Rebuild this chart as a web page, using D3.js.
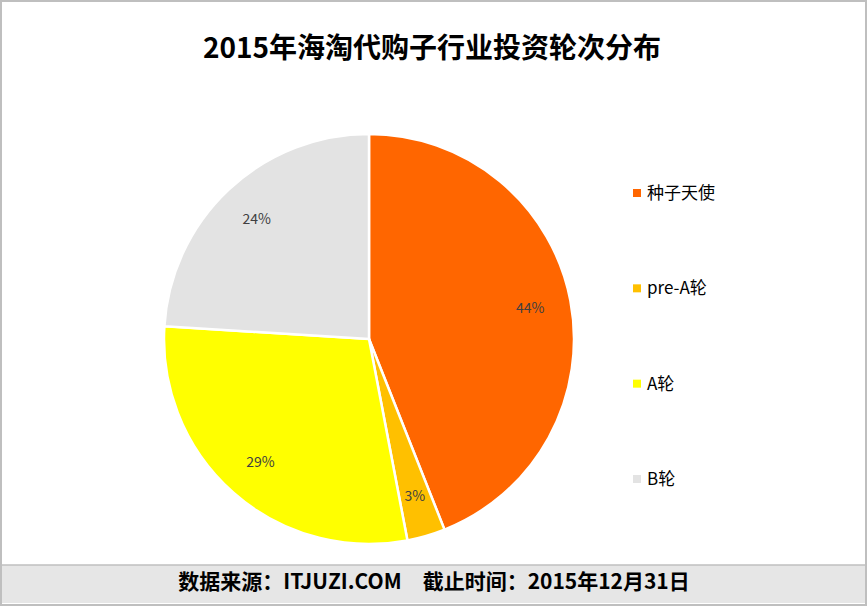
<!DOCTYPE html><html><head><meta charset="utf-8"><script src="https://cdn.jsdelivr.net/npm/d3@7"></script>
<style>body{margin:0;background:#fff}</style></head><body><svg id="c" width="867" height="606"></svg>
<script>
const categories=["种子天使","pre-A轮","A轮","B轮"];
const values=[44,3,29,24];
const colors=["#FF6600","#FFC000","#FFFF00","#E3E3E3"];
const svg=d3.select("#c");
const F="'Noto Sans CJK SC','Noto Sans',sans-serif";
svg.append("rect").attr("x",1).attr("y",1).attr("width",865).attr("height",604).attr("fill","#fff").attr("stroke","#BFBFBF").attr("stroke-width",2);
svg.append("text").attr("x",432).attr("y",58).attr("text-anchor","middle").attr("font-family",F).attr("font-weight","bold").attr("font-size",28).text("2015年海淘代购子行业投资轮次分布");
const cx=369,cy=339,r=205;
const pie=d3.pie().sort(null).value(d=>d)(values);
const arc=d3.arc().innerRadius(0).outerRadius(r);
const la=d3.arc().innerRadius(r*0.8).outerRadius(r*0.8);
const g=svg.append("g").attr("transform",`translate(${cx},${cy})`);
g.selectAll("path").data(pie).join("path").attr("d",arc).attr("fill",(d,i)=>colors[i]).attr("stroke","#fff").attr("stroke-width",2.5);
g.selectAll("text").data(pie).join("text").attr("transform",d=>`translate(${la.centroid(d)})`).attr("text-anchor","middle").attr("dy","0.35em").attr("font-family",F).attr("font-size",14).attr("fill","#404040").text(d=>d.data+"%");
const lg=svg.append("g");
categories.forEach((c,i)=>{const y=d3.scaleLinear().domain([0,3]).range([193,479])(i);
lg.append("rect").attr("x",633).attr("y",y-4).attr("width",8).attr("height",8).attr("fill",colors[i]);
lg.append("text").attr("x",647).attr("y",y).attr("dy","0.35em").attr("font-family",F).attr("font-size",17).text(c);});
svg.append("rect").attr("x",2).attr("y",565).attr("width",863).attr("height",38).attr("fill","#E6E6E6");
svg.append("line").attr("x1",2).attr("x2",865).attr("y1",565).attr("y2",565).attr("stroke","#BFBFBF").attr("stroke-width",1.5);
svg.append("text").attr("x",434).attr("y",582).attr("dy","0.35em").attr("text-anchor","middle").attr("font-family",F).attr("font-weight","bold").attr("font-size",21).text("数据来源：ITJUZI.COM　截止时间：2015年12月31日");
</script></body></html>
